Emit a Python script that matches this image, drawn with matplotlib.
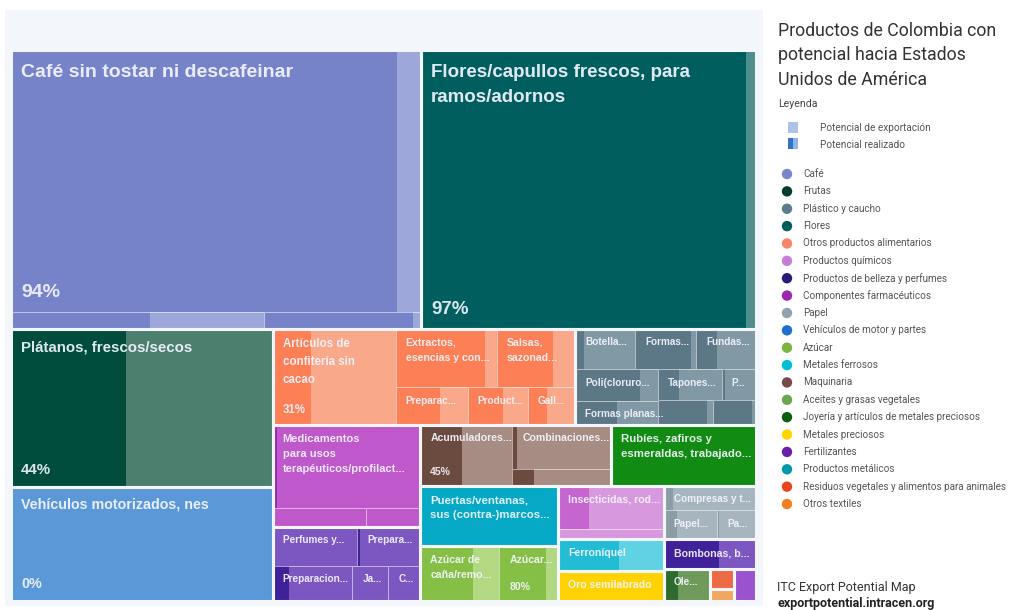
import matplotlib
matplotlib.use("Agg")
import matplotlib.pyplot as plt
from matplotlib.patches import Rectangle, Circle

# ---------------------------------------------------------------------------
# Data: export potential of Colombian products towards the USA (million USD)
# and the share of that potential already realised (%).
# ---------------------------------------------------------------------------
labels = [
    "Café sin tostar ni descafeinar", "", "",                                  # 0-2
    "Flores/capullos frescos, para\nramos/adornos",                             # 3
    "Plátanos, frescos/secos",                                                 # 4
    "Vehículos motorizados, nes",                                              # 5
    "Artículos de\nconfitería sin\ncacao", "Extractos,\nesencias y con...",     # 6-7
    "Salsas,\nsazonad...", "Preparac...", "Product...", "Gall...",             # 8-11
    "Botella...", "Formas...", "Fundas...", "Poli(cloruro...",                 # 12-15
    "Formas planas...", "Tapones...", "P...", "", "",                          # 16-20
    "Medicamentos\npara usos\nterapéuticos/profilact...", "", "",              # 21-23
    "Perfumes y...", "Prepara...", "Preparacion...", "Ja...", "C...",          # 24-28
    "Acumuladores...", "Combinaciones...", "",                                 # 29-31
    "Rubíes, zafiros y\nesmeraldas, trabajado...",                             # 32
    "Puertas/ventanas,\nsus (contra-)marcos...",                               # 33
    "Azúcar de\ncaña/remo...", "Azúcar...",                                    # 34-35
    "Insecticidas, rod...", "",                                                # 36-37
    "Ferroníquel", "Oro semilabrado",                                          # 38-39
    "Compresas y t...", "Papel...", "Pa...",                                   # 40-42
    "Bombonas, b...", "Ole...", "", "", "",                                    # 43-47
]
sectors = [
    "Café", "Café", "Café", "Flores", "Frutas", "Vehículos de motor y partes",
    "Otros productos alimentarios", "Otros productos alimentarios",
    "Otros productos alimentarios", "Otros productos alimentarios",
    "Otros productos alimentarios", "Otros productos alimentarios",
    "Plástico y caucho", "Plástico y caucho", "Plástico y caucho",
    "Plástico y caucho", "Plástico y caucho", "Plástico y caucho",
    "Plástico y caucho", "Plástico y caucho", "Plástico y caucho",
    "Componentes farmacéuticos", "Componentes farmacéuticos",
    "Componentes farmacéuticos",
    "Productos de belleza y perfumes", "Productos de belleza y perfumes",
    "Productos de belleza y perfumes", "Productos de belleza y perfumes",
    "Productos de belleza y perfumes",
    "Maquinaria", "Maquinaria", "Maquinaria",
    "Joyería y artículos de metales preciosos",
    "Productos metálicos", "Azúcar", "Azúcar",
    "Productos químicos", "Productos químicos",
    "Metales ferrosos", "Metales preciosos",
    "Papel", "Papel", "Papel",
    "Productos de belleza y perfumes", "Aceites y grasas vegetales",
    "Residuos vegetales y alimentos para animales", "Otros textiles",
    "Fertilizantes",
]
potential = [
    1525, 61, 38, 1326, 585, 425,
    167, 84, 65, 38, 32, 25,
    34, 35, 34, 37, 28, 28, 15, 19, 15,
    176, 24, 14,
    47, 35, 40, 18, 16,
    80, 62, 24,
    126, 117, 62, 46, 65, 15, 48, 45,
    32, 22, 16, 39, 21, 7, 4, 10,
]
realized = [
    94, 55, 95, 97, 44, 0,
    31, 88, 72, 62, 58, 40,
    15, 92, 35, 78, 50, 33, 10, 90, 90,
    3, 0, 0,
    0, 5, 20, 0, 0,
    45, 5, 22,
    100, 100, 67, 80, 29, 0, 58, 100,
    10, 25, 5, 60, 30, 100, 0, 0,
]
show_pct = {0, 3, 4, 5, 6, 29, 35}

legend_sectors = [
    "Café", "Frutas", "Plástico y caucho", "Flores",
    "Otros productos alimentarios", "Productos químicos",
    "Productos de belleza y perfumes", "Componentes farmacéuticos", "Papel",
    "Vehículos de motor y partes", "Azúcar", "Metales ferrosos", "Maquinaria",
    "Aceites y grasas vegetales", "Joyería y artículos de metales preciosos",
    "Metales preciosos", "Fertilizantes", "Productos metálicos",
    "Residuos vegetales y alimentos para animales", "Otros textiles",
]

# sector -> (realised colour, unrealised potential colour, legend dot)
palette = {
    "Café": ("#7783c9", "#9ea7da", "#7986cb"),
    "Frutas": ("#004d3c", "#4d7f6e", "#053d2f"),
    "Plástico y caucho": ("#5c7786", "#8199a5", "#5d7b8a"),
    "Flores": ("#005f5e", "#4e8e8c", "#005d5b"),
    "Otros productos alimentarios": ("#fc7f56", "#f9a88a", "#f4876a"),
    "Productos químicos": ("#c765d0", "#d898de", "#c77dd7"),
    "Productos de belleza y perfumes": ("#3f2199", "#7c56c1", "#2a1a78"),
    "Componentes farmacéuticos": ("#9c27b0", "#bf58cb", "#9b27b0"),
    "Papel": ("#8a9da7", "#a7b6be", "#90a4ae"),
    "Vehículos de motor y partes": ("#1e62c0", "#5b98d8", "#1e6fd0"),
    "Azúcar": ("#86bf45", "#b2d882", "#7cb342"),
    "Metales ferrosos": ("#22bcd4", "#5fd3e3", "#00bcd4"),
    "Maquinaria": ("#6b4a40", "#a68c83", "#7a4a4a"),
    "Aceites y grasas vegetales": ("#2e6b2e", "#6f9a5c", "#6aa84f"),
    "Joyería y artículos de metales preciosos": ("#128b12", "#5fae5f", "#0b5e0b"),
    "Metales preciosos": ("#ffd200", "#ffe15a", "#ffd600"),
    "Fertilizantes": ("#6a1fa8", "#9b52cf", "#6a1fa8"),
    "Productos metálicos": ("#05a9c6", "#55c6d8", "#0097a7"),
    "Residuos vegetales y alimentos para animales": ("#ec6a44", "#f39a7c", "#e8451e"),
    "Otros textiles": ("#ef8020", "#f2a760", "#f08020"),
}

# Nested split structure of the treemap: 'H' = side by side, 'V' = stacked,
# 'G' = a sector block (drawn with a separating border). Leaves are product
# indices; every split is proportional to the summed potential.
def H(*k): return ("H", list(k))
def V(*k): return ("V", list(k))
def G(k): return ("G", [k])

tree = V(
    H(G(V(0, H(1, 2))), G(3)),
    H(
        V(G(4), G(5)),
        V(
            H(G(H(6, V(H(7, 8), H(9, 10, 11)))),
              G(V(H(12, 13, 14), H(V(15, 16), V(H(17, 18), H(19, 20)))))),
            H(
                V(G(V(21, H(22, 23))), G(V(H(24, 25), H(26, 27, 28)))),
                V(
                    H(G(H(29, V(30, 31))), G(32)),
                    H(
                        V(G(33), G(H(34, 35))),
                        V(G(V(36, 37)), G(38), G(39)),
                        V(G(V(40, H(41, 42))), G(43),
                          H(G(44), V(G(45), G(46)), G(47))),
                    ),
                ),
            ),
        ),
    ),
)

# label font sizes (pt)
label_size = {0: 14, 3: 13.5, 4: 10.8, 5: 10.3, 6: 8.3, 21: 8.0, 32: 8.2,
              33: 8.2, 29: 7.6, 30: 7.6, 34: 7.6, 35: 7.6, 36: 7.6, 38: 7.6,
              39: 7.6, 43: 7.6, 7: 7.6, 8: 7.6}


def value(n):
    if isinstance(n, int):
        return potential[n]
    return sum(value(c) for c in n[1])


def layout(n, x, y, w, h, rects, blocks):
    if isinstance(n, int):
        rects[n] = (x, y, w, h)
        return
    kind, kids = n
    if kind == "G":
        blocks.append((x, y, w, h))
        layout(kids[0], x, y, w, h, rects, blocks)
        return
    tot = value(n)
    pos = x if kind == "H" else y
    for k in kids:
        f = value(k) / tot
        if kind == "H":
            layout(k, pos, y, w * f, h, rects, blocks)
            pos += w * f
        else:
            layout(k, x, pos, w, h * f, rects, blocks)
            pos += h * f


W, Hgt = 1016, 610
PANEL = "#f3f6fb"
fig = plt.figure(figsize=(W / 100, Hgt / 100), dpi=100)
ax = fig.add_axes([0, 0, 1, 1])
ax.set_xlim(0, W)
ax.set_ylim(Hgt, 0)
ax.axis("off")

ax.add_patch(Rectangle((5, 10), 758, 596, facecolor=PANEL, edgecolor="none"))

rects, blocks = {}, []
layout(tree, 11, 50, 745, 551, rects, blocks)

LABEL_FONT = ["Liberation Sans", "DejaVu Sans"]
for i, (x, y, w, h) in rects.items():
    dark, light, _ = palette[sectors[i]]
    r = realized[i] / 100.0
    ax.add_patch(Rectangle((x, y), w * r, h, facecolor=dark, edgecolor="none"))
    ax.add_patch(Rectangle((x + w * r, y), w * (1 - r), h, facecolor=light,
                           edgecolor="none"))
    ax.add_patch(Rectangle((x, y), w, h, facecolor="none",
                           edgecolor=(1, 1, 1, 0.55), linewidth=0.7))
    clip = Rectangle((x, y), w, h, transform=ax.transData)
    fs = label_size.get(i, 7.2)
    fs_px = fs * 100 / 72
    if labels[i]:
        t = ax.text(x + 10, y + 0.6 * fs_px + 2.5, labels[i], ha="left",
                    va="top", fontsize=fs, fontweight="bold", color="#f5f6ff",
                    alpha=0.92, family=LABEL_FONT, linespacing=1.65)
        t.set_clip_path(clip)
    if i in show_pct:
        t = ax.text(x + 10, y + h - (0.25 * fs_px + 6), f"{realized[i]}%",
                    ha="left", va="bottom", fontsize=fs, fontweight="bold",
                    color="#f5f6ff", alpha=0.9, family=LABEL_FONT)
        t.set_clip_path(clip)

for (x, y, w, h) in blocks:
    ax.add_patch(Rectangle((x, y), w, h, facecolor="none", edgecolor=PANEL,
                           linewidth=2.2))

# ---------------------------------------------------------------------------
# Side panel: title and legend
# ---------------------------------------------------------------------------
TXT = ["Roboto", "DejaVu Sans"]
ax.text(778, 22, "Productos de Colombia con\npotencial hacia Estados\nUnidos de América",
        ha="left", va="top", fontsize=12.8, color="#333333", family=TXT,
        linespacing=1.45)
ax.text(778, 104, "Leyenda", ha="left", va="center", fontsize=7.6,
        color="#444444", family=TXT)

ax.add_patch(Rectangle((788, 122), 10, 11, facecolor="#a9c4e8", edgecolor="none"))
ax.add_patch(Rectangle((788, 138), 5, 11, facecolor="#3473cc", edgecolor="none"))
ax.add_patch(Rectangle((793, 138), 5, 11, facecolor="#8db5e6", edgecolor="none"))
ax.text(820, 128, "Potencial de exportación", ha="left", va="center",
        fontsize=7.2, color="#555555", family=TXT)
ax.text(820, 145, "Potencial realizado", ha="left", va="center",
        fontsize=7.2, color="#555555", family=TXT)

y0, step = 174, 17.37
for k, s in enumerate(legend_sectors):
    yy = y0 + k * step
    ax.add_patch(Circle((787, yy), 5.2, facecolor=palette[s][2], edgecolor="none"))
    ax.text(803, yy, s, ha="left", va="center", fontsize=7.1,
            color="#555555", family=TXT)

ax.text(777, 587, "ITC Export Potential Map", ha="left", va="center",
        fontsize=9.0, color="#333333", family=TXT)
ax.text(777, 603, "exportpotential.intracen.org", ha="left", va="center",
        fontsize=9.0, color="#222222", family=TXT, fontweight="bold")

fig.savefig("out.png", dpi=100, facecolor="white")
